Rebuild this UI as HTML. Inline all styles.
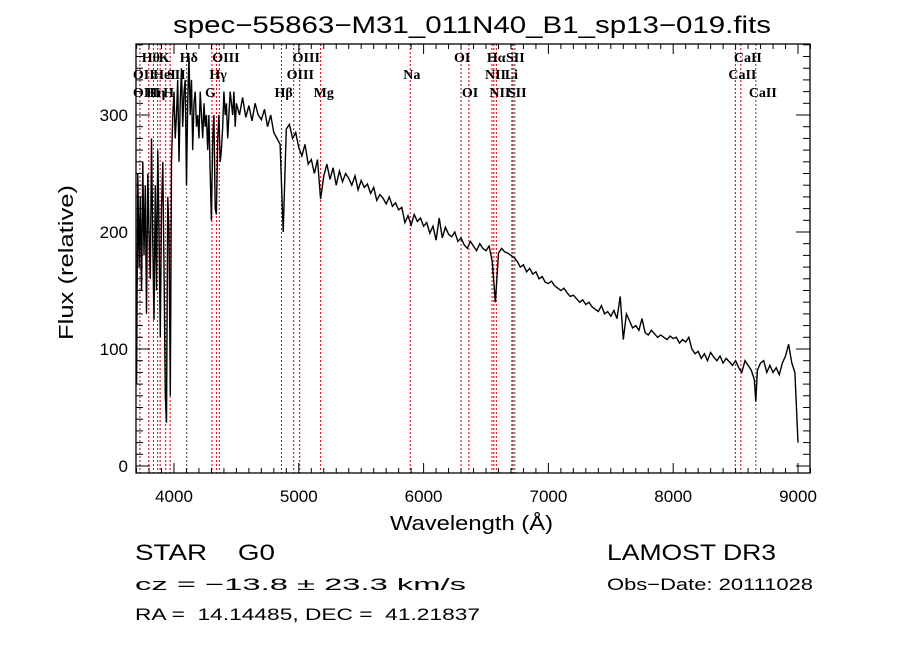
<!DOCTYPE html>
<html><head><meta charset="utf-8"><style>
html,body{margin:0;padding:0;background:#fff;}
svg{display:block;font-family:"Liberation Sans",sans-serif;}
text{white-space:pre;}
</style></head><body>
<svg id="chart" width="900" height="649" viewBox="0 0 900 649" xmlns="http://www.w3.org/2000/svg" xml:space="preserve">
<rect x="0" y="0" width="900" height="649" fill="#fff"/>
<text x="173" y="33" font-size="24" textLength="598" lengthAdjust="spacingAndGlyphs">spec−55863−M31_011N40_B1_sp13−019.fits</text>
<g id="lines"></g>
<g id="labels"></g>
<g id="spec"></g>
<rect x="136" y="44" width="674" height="429" fill="none" stroke="#000" stroke-width="1.3"/>
<g id="axes"></g>
<text x="390" y="530" font-size="20" textLength="163" lengthAdjust="spacingAndGlyphs">Wavelength (Å)</text>
<text transform="translate(73,340) rotate(-90)" font-size="20" textLength="155" lengthAdjust="spacingAndGlyphs">Flux (relative)</text>
<text x="135" y="560" font-size="22" textLength="140" lengthAdjust="spacingAndGlyphs">STAR    G0</text>
<text x="607" y="560" font-size="22" textLength="169" lengthAdjust="spacingAndGlyphs">LAMOST DR3</text>
<text x="135" y="590" font-size="17" textLength="331" lengthAdjust="spacingAndGlyphs">cz = −13.8 ± 23.3 km/s</text>
<text x="607" y="590" font-size="17" textLength="206" lengthAdjust="spacingAndGlyphs">Obs−Date: 20111028</text>
<text x="135" y="620" font-size="17" textLength="345" lengthAdjust="spacingAndGlyphs">RA =  14.14485, DEC =  41.21837</text>
</svg>
<script>
const wavelengths = [3700,3710,3720,3730,3740,3750,3760,3770,3780,3790,3800,3810,3820,3830,3840,3850,3860,3870,3880,3890,3900,3910,3920,3930,3940,3950,3960,3970,3980,3990,4000,4010,4020,4030,4040,4050,4060,4070,4080,4090,4100,4110,4120,4130,4140,4150,4160,4170,4180,4190,4200,4210,4220,4230,4240,4250,4260,4270,4280,4290,4300,4310,4320,4330,4340,4350,4360,4370,4380,4390,4400,4410,4420,4430,4440,4450,4460,4470,4480,4490,4500,
4525,4550,4575,4600,4625,4650,4675,4700,4725,4750,4775,4800,4825,4850,4875,4900,4925,4950,4975,5000,5025,5050,5075,5100,5125,5150,5175,5200,5225,5250,5275,5300,5325,5350,5375,5400,5425,5450,5475,5500,5525,5550,5575,5600,5625,5650,5675,5700,5725,5750,5775,5800,5825,5850,5875,5900,5925,5950,5975,6000,6025,6050,6075,6100,6125,6150,6175,6200,6225,6250,6275,6300,6325,6350,6375,6400,6425,6450,6475,6500,6525,6550,6575,6600,6625,6650,6675,6700,6725,6750,6775,6800,6825,6850,6875,6900,6925,6950,6975,7000,7025,7050,7075,7100,7125,7150,7175,7200,7225,7250,7275,7300,7325,7350,7375,7400,7425,7450,7475,7500,7525,7550,7575,7600,7625,7650,7675,7700,7725,7750,7775,7800,7825,7850,7875,7900,7925,7950,7975,8000,8025,8050,8075,8100,8125,8150,8175,8200,8225,8250,8275,8300,8325,8350,8375,8400,8425,8450,8475,8500,8525,8550,8575,8600,8625,8650,8662,8675,8700,8725,8750,8775,8800,8825,8850,8875,8900,8925,8950,8975,9000];
const flux = [70,250,170,230,150,260,180,240,130,250,200,160,280,190,125,240,150,270,200,110,220,260,170,60,37,230,200,60,260,300,320,280,300,330,260,310,340,290,320,330,240,310,350,300,330,270,310,320,290,300,280,320,300,280,310,290,300,270,300,250,210,280,300,220,215,280,300,260,270,290,320,300,310,280,300,320,310,300,320,290,310,
300,315,298,308,295,310,300,296,305,290,300,285,280,275,200,288,292,280,285,272,265,275,258,262,250,262,228,248,258,245,255,240,252,243,250,246,240,248,236,244,238,241,233,238,227,232,229,224,230,222,225,219,221,208,214,206,215,209,212,205,208,199,205,193,212,195,204,198,196,200,192,195,189,186,192,188,184,190,186,184,188,175,140,182,186,183,182,180,178,175,170,172,166,169,164,166,160,162,157,156,158,154,152,150,152,148,145,146,143,140,142,138,140,136,134,132,137,130,132,128,133,126,145,108,130,124,118,120,116,126,114,112,116,113,110,112,110,108,111,109,110,105,108,106,110,100,96,98,92,96,90,97,93,90,94,88,92,89,86,90,84,80,90,86,82,74,55,82,88,90,80,86,80,84,78,88,94,104,88,80,20];
const lineWaves = [3727,3798,3835,3869,3889,3934,3969,4102,4304,4340,4363,4861,4959,5007,5175,5893,6300,6363,6548,6563,6583,6707,6716,6731,8498,8542,8662];
const lineDark = [0,0,0,0,0,0,0,1,0,0,0,0,0,0,0,0,0,0,0,0,0,1,0,1,0,0,1];
const labelText = ["Hθ","K","Hδ","OIII","OIII","OI","Hα","SII","CaII","OII","HeI","SII","Hγ","OIII","Na","NII","Li","CaII","OIII","Hη","H","G","Hβ","Mg","OI","NII","SII","CaII"];
const labelWave = [3798,3934,4102,4363,5007,6300,6563,6716,8542,3727,3889,4000,4340,4959,5893,6548,6707,8498,3727,3835,3969,4304,4861,5175,6363,6583,6731,8662];
const labelRow = [0,0,0,0,0,0,0,0,0,1,1,1,1,1,1,1,1,1,2,2,2,2,2,2,2,2,2,2];
const xTicks = [4000,5000,6000,7000,8000,9000];
const yTicks = [0,100,200,300];

const NS="http://www.w3.org/2000/svg";
function xs(w){return 174+(w-4000)*0.1248;}
function ys(f){return 466-f*1.17;}
function mk(tag,attrs,parent){const e=document.createElementNS(NS,tag);for(const k in attrs)e.setAttribute(k,attrs[k]);parent.appendChild(e);return e;}

const gl=document.getElementById('lines');
lineWaves.forEach((w,i)=>{
  const l=mk('line',{x1:xs(w),x2:xs(w),y1:44,y2:473,stroke:lineDark[i]?'#444':'#c00','stroke-width':1,'stroke-dasharray':'2,2'},gl);
  
  
});
const glab=document.getElementById('labels');
const rowY=[62,79,97];
labelText.forEach((t,i)=>{
  const tx=mk('text',{x:xs(labelWave[i])-7,y:rowY[labelRow[i]],'font-size':14,'font-weight':'bold','font-family':'"Liberation Serif",serif'},glab);
  tx.textContent=t;
  
  
});
const gs=document.getElementById('spec');
let d='';
wavelengths.forEach((w,i)=>{d+=(i?'L':'M')+xs(w).toFixed(1)+','+ys(flux[i]).toFixed(1);});
const p=mk('path',{d:d,fill:'none',stroke:'#000','stroke-width':1.4,'stroke-linejoin':'miter'},gs);



const ga=document.getElementById('axes');
for(let w=3700;w<=9100;w+=100){
  const maj=w%1000===0;const L=maj?10:5;
  mk('line',{x1:xs(w),x2:xs(w),y1:473,y2:473-L,stroke:'#000'},ga);
  mk('line',{x1:xs(w),x2:xs(w),y1:44,y2:44+L,stroke:'#000'},ga);
}
xTicks.forEach(w=>{
  const t=mk('text',{x:xs(w),y:502,'font-size':17,'text-anchor':'middle'},ga);
  t.textContent=w;
  
  
});
for(let f=0;f<=360;f+=10){
  const maj=f%100===0;const L=maj?14:7;
  mk('line',{x1:136,x2:136+L,y1:ys(f),y2:ys(f),stroke:'#000'},ga);
  mk('line',{x1:810,x2:810-L,y1:ys(f),y2:ys(f),stroke:'#000'},ga);
}
yTicks.forEach(f=>{
  const t=mk('text',{x:128,y:ys(f)+6,'font-size':17,'text-anchor':'end'},ga);
  t.textContent=f;
  
  
});
</script>
</body></html>
